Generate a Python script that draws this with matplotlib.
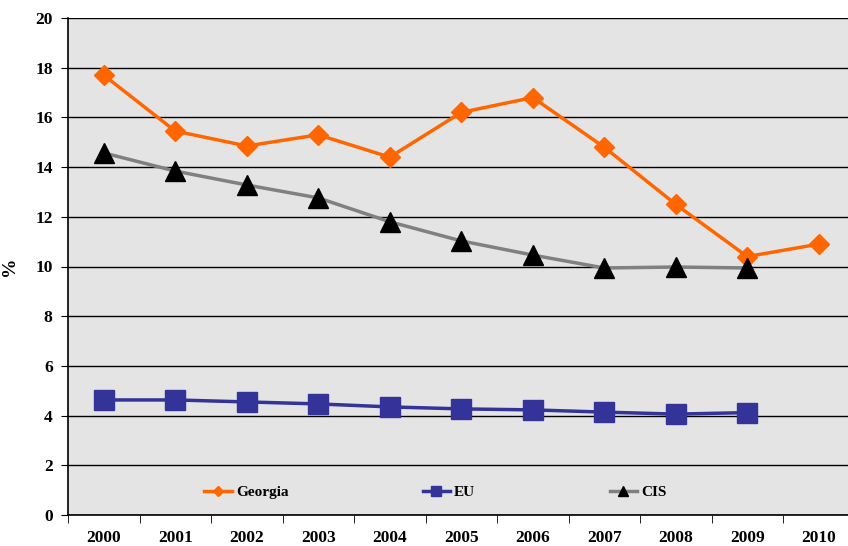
import matplotlib.pyplot as plt
import numpy as np

years = ['2000', '2001', '2002', '2003', '2004', '2005', '2006', '2007', '2008', '2009', '2010']
georgia = [17.7, 15.45, 14.85, 15.3, 14.4, 16.2, 16.8, 14.8, 12.5, 10.4, 10.9]
eu = [4.63, 4.63, 4.55, 4.47, 4.35, 4.27, 4.23, 4.14, 4.06, 4.12]
cis = [14.57, 13.84, 13.28, 12.76, 11.8, 11.03, 10.46, 9.94, 9.98, 9.94]

plt.rcParams['font.family'] = ['Liberation Serif', 'DejaVu Serif']
plt.rcParams['font.weight'] = 'bold'

fig = plt.figure(figsize=(8.48, 5.46), dpi=100)
ax = fig.add_axes([68 / 848, 31 / 546, 786.5 / 848, 497 / 546])
ax.set_facecolor('#e4e4e4')

x = np.arange(len(years))
ax.plot(x, georgia, color='#ff6600', lw=2.5, marker='D', ms=10, label='Georgia', zorder=3)
ax.plot(x[:len(eu)], eu, color='#333399', lw=2.5, marker='s', ms=14, label='EU', zorder=3)
ax.plot(x[:len(cis)], cis, color='#808080', lw=2.5, marker='^', ms=14,
        mfc='black', mec='black', label='CIS', zorder=3)

ax.set_xlim(-0.5, len(years) - 0.5)
ax.set_ylim(0, 20)
ax.set_yticks(np.arange(0, 21, 2))
ax.yaxis.grid(True, color='black', lw=1)
ax.set_axisbelow(True)

ax.set_xticks(x)
ax.set_xticklabels(years, fontsize=12.5, fontweight='bold')
ax.set_xticks(np.arange(-0.5, len(years), 1), minor=True)
ax.tick_params(axis='x', which='major', length=0, pad=11)
ax.tick_params(axis='x', which='minor', length=6, color='black')
ax.tick_params(axis='y', length=5, labelsize=12.5, pad=6)

for s in ['top', 'right']:
    ax.spines[s].set_visible(False)
ax.spines['left'].set_linewidth(1.2)
ax.spines['bottom'].set_linewidth(1.2)

ax.set_ylabel('%', fontsize=14, fontweight='bold')
ax.yaxis.set_label_coords(-50 / 786.5, 0.5)

leg = ax.legend(loc='lower left', bbox_to_anchor=(0.156, 0.004), ncol=3, frameon=False,
                columnspacing=8.8, handlelength=1.8, handletextpad=0.25,
                fontsize=11, markerscale=0.55)

fig.savefig('out.png', dpi=100)
